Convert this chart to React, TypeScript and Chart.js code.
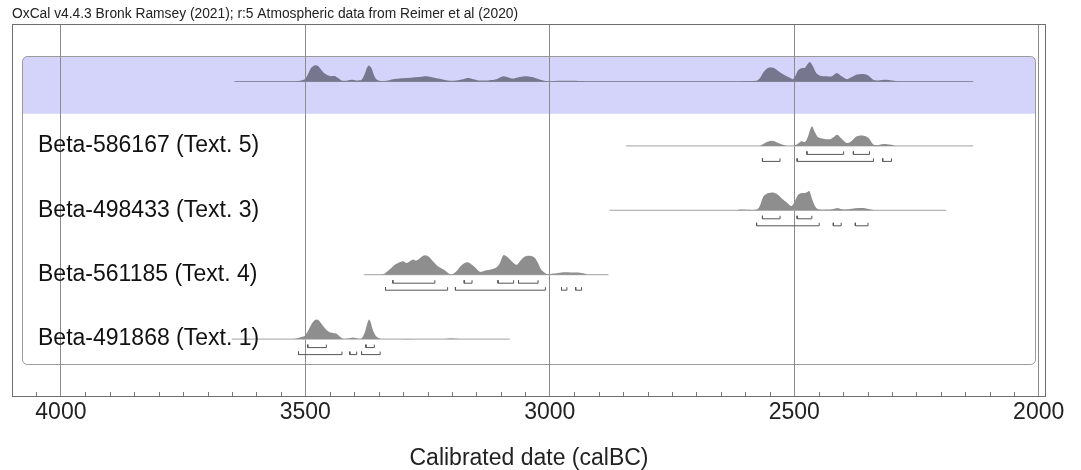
import React, { useEffect, useRef } from 'react';
import { Chart, registerables } from 'chart.js';

Chart.register(...registerables);

const HEADER = 'OxCal v4.4.3 Bronk Ramsey (2021); r:5 Atmospheric data from Reimer et al (2020)';
const AXIS_TITLE = 'Calibrated date (calBC)';
const X_MIN = 1985;
const X_MAX = 4100;
const MAJOR_STEP = 500;
const MINOR_STEP = 50;

// rows from top to bottom (row 0 = summed distribution in the blue band)
const rowLabels = ['', 'Beta-586167 (Text. 5)', 'Beta-498433 (Text. 3)', 'Beta-561185 (Text. 4)', 'Beta-491868 (Text. 1)'];

// extent of each row's baseline (calBC)
const rowRanges: [number, number][] = [
  [3645, 2134],
  [2844, 2134],
  [2878, 2189],
  [3380, 2880],
  [3650, 3082],
];

// [year calBC, relative probability]
const sumDist: [number, number][] = [
  [3530, 0], [3518, 0.3], [3501, 2.3], [3495, 6.7], [3488, 13.3], [3481, 15.7], [3474, 15], [3467, 11],
  [3460, 7.7], [3450, 5.3], [3440, 5.3], [3433, 3.3], [3426, 1], [3416, 0.7], [3406, 1.7], [3396, 1],
  [3385, 1.7], [3379, 6.7], [3374, 13.3], [3370, 15.7], [3365, 13.3], [3360, 6.7], [3355, 2.3], [3344, 0.3],
  [3331, 1], [3321, 2.3], [3307, 3], [3293, 3.3], [3280, 4], [3266, 4.3], [3252, 5], [3239, 4],
  [3225, 2.7], [3208, 1], [3191, 1], [3177, 2.3], [3167, 3.3], [3157, 2.3], [3143, 1], [3123, 1.3],
  [3109, 2.3], [3095, 5], [3085, 4], [3075, 3], [3065, 4], [3051, 5], [3037, 4.3], [3027, 3],
  [3014, 1], [3003, 0.3], [2979, 0.7], [2952, 0.7], [2932, 0.3], [2920, 0], [2625, 0], [2600, 0.3],
  [2577, 0.7], [2570, 3.3], [2563, 9], [2553, 13.3], [2543, 13.3], [2532, 10], [2522, 6.7], [2512, 4.3],
  [2503, 2.3], [2498, 5], [2492, 11], [2485, 13], [2478, 13.3], [2473, 16.7], [2468, 19], [2462, 15],
  [2455, 8.3], [2447, 5.7], [2433, 5], [2423, 5], [2413, 8.3], [2403, 5], [2392, 2.3], [2382, 4.3],
  [2372, 6.7], [2358, 7.3], [2348, 5.7], [2338, 1.7], [2328, 1], [2314, 1.7], [2300, 1], [2290, 0.3], [2280, 0],
];

const dist586167: [number, number][] = [
  [2570, 0], [2560, 3], [2546, 5.3], [2530, 2.5], [2515, 0], [2502, 0], [2495, 1.3], [2485, 4.7],
  [2478, 4], [2473, 8], [2464, 19.7], [2457, 13], [2451, 8.7], [2440, 7.3], [2427, 6.7], [2420, 8.7],
  [2412, 11.3], [2403, 7.3], [2392, 3], [2382, 5.3], [2372, 9.7], [2358, 10.3], [2348, 8], [2338, 1.3],
  [2331, 0.7], [2318, 2], [2304, 1.3], [2294, 0],
];

const dist498433: [number, number][] = [
  [2618, 0], [2611, 0.7], [2577, 0.7], [2571, 3.7], [2563, 13.7], [2553, 17], [2543, 17.7], [2536, 16.3],
  [2526, 12], [2515, 7.7], [2507, 4.3], [2503, 5.3], [2498, 9.7], [2492, 15.3], [2485, 17], [2478, 17],
  [2473, 18], [2469, 19.3], [2464, 12], [2457, 3.7], [2451, 1], [2433, 0.7], [2420, 1.3], [2412, 2.3],
  [2403, 1], [2389, 1], [2375, 2], [2358, 2.3], [2348, 1.3], [2338, 0.3], [2324, 0],
];

const dist561185: [number, number][] = [
  [3345, 0], [3338, 1], [3327, 5], [3317, 9.3], [3307, 11.7], [3300, 12.7], [3293, 11], [3286, 12.7],
  [3280, 14.3], [3273, 13.3], [3266, 15.3], [3259, 17.7], [3254, 18.3], [3248, 17], [3239, 12.7], [3228, 7.7],
  [3218, 5], [3208, 1.7], [3201, 0.3], [3191, 3.3], [3181, 8.7], [3170, 11.7], [3164, 11], [3153, 7],
  [3143, 2.7], [3133, 3.7], [3119, 5], [3109, 7], [3102, 11], [3095, 18.3], [3088, 17], [3078, 12.7],
  [3068, 9.3], [3061, 12.7], [3051, 17], [3041, 17.7], [3031, 16], [3024, 11], [3017, 4.3], [3007, 1],
  [2996, 1], [2983, 1.7], [2969, 2.3], [2949, 2], [2935, 1.7], [2921, 0],
];

const dist491868: [number, number][] = [
  [3532, 0], [3518, 0.7], [3508, 2], [3501, 3.3], [3495, 7.7], [3488, 14.3], [3481, 18.7], [3476, 19.3],
  [3471, 17.7], [3464, 13.3], [3457, 9.3], [3450, 6.7], [3443, 6], [3436, 5.3], [3430, 2.7], [3423, 0.3],
  [3413, 0.7], [3402, 1.7], [3394, 0.7], [3385, 0.7], [3379, 6], [3374, 14.3], [3370, 19.3], [3367, 17.7],
  [3362, 9.3], [3355, 2.7], [3348, 0.7], [3341, 0], [3220, 0], [3211, 0.3], [3201, 0.5], [3184, 0],
];

const rowDists = [sumDist, dist586167, dist498433, dist561185, dist491868];

// highest posterior density ranges: 68.3% (upper) and 95.4% (lower)
const range68: [number, number][][] = [
  [],
  [[2474, 2399], [2379, 2346]],
  [[2565, 2529], [2494, 2464]],
  [[3321, 3235], [3175, 3159], [3106, 3074], [3064, 3024]],
  [[3495, 3457], [3376, 3359]],
];
const range95: [number, number][][] = [
  [],
  [[2565, 2529], [2494, 2338], [2319, 2301]],
  [[2577, 2449], [2420, 2404], [2375, 2349]],
  [[3336, 3209], [3193, 3009], [2976, 2965], [2947, 2935]],
  [[3514, 3425], [3409, 3395], [3385, 3347]],
];

// layout (y units = pixels above the plot bottom)
const Y_MAX = 373;
const ROW0_BASE = 315.5;
const ROW_STEP = 64.4;
const PEAK = 19.5;
const FONT = '"Liberation Sans", Arial, Helvetica, sans-serif';

const rowBase = (i: number) => ROW0_BASE - i * ROW_STEP;

function bracketData(ranges: [number, number][], y: number) {
  const pts: any[] = [];
  ranges.forEach(([a, b]) => {
    pts.push({ x: a, y: y + 3 }, { x: a, y }, { x: b, y }, { x: b, y: y + 3 }, { x: b, y: null });
  });
  return pts;
}

function buildDatasets() {
  const ds: any[] = [];
  // brackets (drawn on top)
  rowDists.forEach((_, i) => {
    const base = rowBase(i);
    ds.push({
      data: bracketData(range68[i], base - 8.5),
      borderColor: '#555', borderWidth: 1, pointRadius: 0, tension: 0, fill: false, spanGaps: false,
    });
    ds.push({
      data: bracketData(range95[i], base - 15.5),
      borderColor: '#555', borderWidth: 1, pointRadius: 0, tension: 0, fill: false, spanGaps: false,
    });
  });
  // distributions
  rowDists.forEach((dist, i) => {
    const base = rowBase(i);
    const maxD = Math.max(...dist.map((p) => p[1]));
    ds.push({
      data: dist.map(([x, d]) => ({ x, y: base + (d / maxD) * PEAK })),
      borderWidth: 0, borderColor: 'rgba(0,0,0,0)', pointRadius: 0, tension: 0.3,
      backgroundColor: i === 0 ? 'rgb(118,119,142)' : 'rgb(142,142,142)',
      fill: { value: base },
    });
  });
  // baselines
  rowRanges.forEach(([a, b], i) => {
    const base = rowBase(i);
    ds.push({
      data: [{ x: a, y: base }, { x: b, y: base }],
      borderColor: i === 0 ? '#8a8aa0' : '#b4b4b4', borderWidth: 1.2, pointRadius: 0, fill: false,
    });
  });
  return ds;
}

const decorPlugin = {
  id: 'oxcalDecor',
  beforeDraw(chart: any) {
    const { ctx, chartArea: a, scales } = chart;
    const ys = scales.y;
    const left = a.left + 10.5;
    const right = a.right - 10.5;
    const top = a.top + 32.5;
    const bottom = a.bottom - 32.5;
    const bandBottom = (ys.getPixelForValue(rowBase(0)) + ys.getPixelForValue(rowBase(1))) / 2;
    const r = 5;
    ctx.save();
    ctx.fillStyle = '#fff';
    ctx.fillRect(0, 0, chart.width, chart.height);
    ctx.beginPath();
    ctx.moveTo(left, bandBottom);
    ctx.lineTo(left, top + r);
    ctx.arcTo(left, top, left + r, top, r);
    ctx.lineTo(right - r, top);
    ctx.arcTo(right, top, right, top + r, r);
    ctx.lineTo(right, bandBottom);
    ctx.closePath();
    ctx.fillStyle = 'rgb(212,212,250)';
    ctx.fill();
    ctx.beginPath();
    ctx.roundRect(left, top, right - left, bottom - top, r);
    ctx.strokeStyle = '#9a9a9a';
    ctx.lineWidth = 1;
    ctx.stroke();
    ctx.restore();
  },
  afterDraw(chart: any) {
    const { ctx, chartArea: a, scales } = chart;
    const xs = scales.x;
    const ys = scales.y;
    ctx.save();
    // minor ticks
    ctx.strokeStyle = '#777';
    ctx.lineWidth = 1;
    xs.ticks.forEach((t: any) => {
      if (t.value % MAJOR_STEP === 0) return;
      const px = Math.round(xs.getPixelForValue(t.value)) + 0.5;
      ctx.beginPath();
      ctx.moveTo(px, a.bottom);
      ctx.lineTo(px, a.bottom - 5);
      ctx.stroke();
    });
    // frame
    ctx.strokeStyle = '#6e6e6e';
    ctx.strokeRect(a.left + 0.5, a.top + 0.5, a.right - a.left - 1, a.bottom - a.top - 1);
    // header
    ctx.fillStyle = '#222';
    ctx.font = `13.8px ${FONT}`;
    ctx.textBaseline = 'middle';
    ctx.textAlign = 'left';
    ctx.fillText(HEADER, 12, 14);
    // row labels
    ctx.font = `23px ${FONT}`;
    ctx.fillStyle = '#111';
    rowLabels.forEach((lab, i) => {
      if (!lab) return;
      ctx.fillText(lab, a.left + 26, ys.getPixelForValue(rowBase(i)));
    });
    ctx.restore();
  },
};

export default function App() {
  const ref = useRef<HTMLCanvasElement>(null);
  useEffect(() => {
    Chart.defaults.font.family = FONT;
    const chart = new Chart(ref.current as HTMLCanvasElement, {
      type: 'line',
      data: { datasets: buildDatasets() },
      options: {
        animation: false,
        responsive: false,
        maintainAspectRatio: false,
        layout: { padding: { left: 12, right: 35, top: 24, bottom: 0 } },
        plugins: { legend: { display: false }, tooltip: { enabled: false }, title: { display: false } },
        scales: {
          x: {
            type: 'linear',
            min: X_MIN,
            max: X_MAX,
            reverse: true,
            afterFit: (s: any) => { s.height = 73; },
            ticks: {
              stepSize: MINOR_STEP,
              includeBounds: false,
              autoSkip: false,
              maxRotation: 0,
              padding: 2,
              color: '#222',
              font: { size: 23 },
              callback: (v: any) => (Number(v) % MAJOR_STEP === 0 ? String(v) : ''),
            },
            grid: {
              drawTicks: false,
              lineWidth: 1,
              color: (c: any) => (c.tick && c.tick.value % MAJOR_STEP === 0 ? '#8c8c8c' : 'rgba(0,0,0,0)'),
            },
            border: { display: false },
            title: { display: true, text: AXIS_TITLE, color: '#222', font: { size: 23, lineHeight: 1 }, padding: { top: 0, bottom: 0 } },
          },
          y: { type: 'linear', display: false, min: 0, max: Y_MAX },
        },
      },
      plugins: [decorPlugin],
    } as any);
    return () => chart.destroy();
  }, []);
  return (
    <div style={{ position: 'absolute', left: 0, top: 0, width: 1081, height: 470, background: '#fff' }}>
      <canvas ref={ref} width={1081} height={470} style={{ display: 'block', width: 1081, height: 470 }} />
    </div>
  );
}
